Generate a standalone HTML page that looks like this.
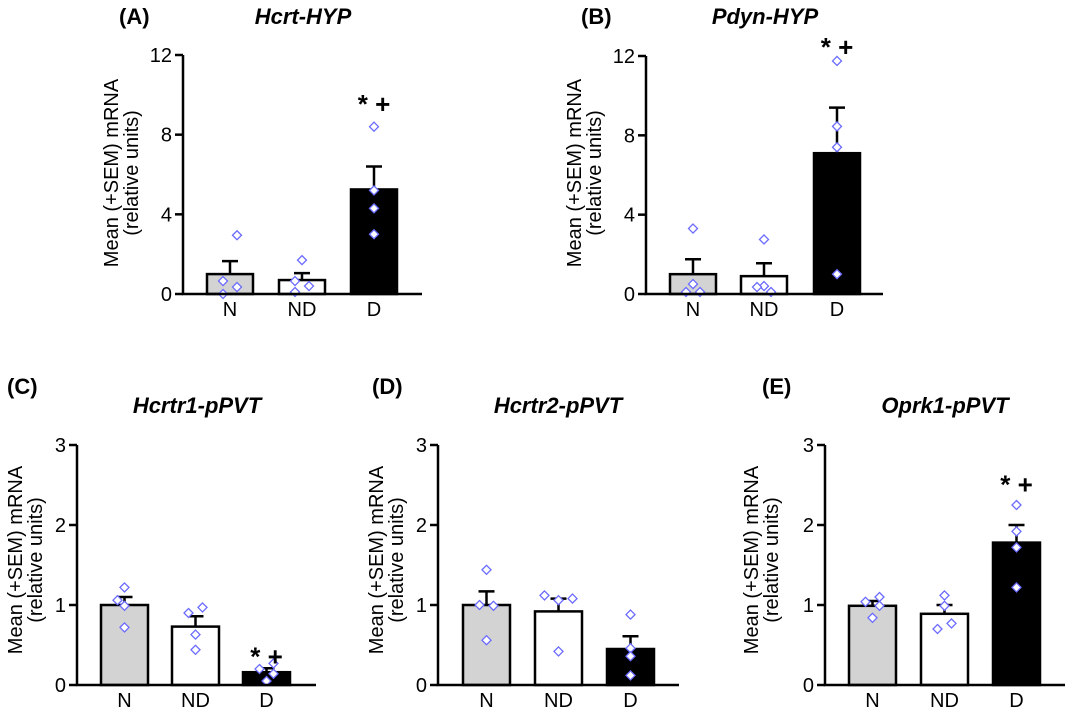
<!DOCTYPE html>
<html><head><meta charset="utf-8"><style>
html,body{margin:0;padding:0;background:#fff}
svg{display:block;font-family:"Liberation Sans",Arial,sans-serif}
</style></head><body>
<svg id="fig" width="1065" height="707" viewBox="0 0 1065 707"></svg>
<script>
const categories = ["N","ND","D"];
const aMeans = [1.0, 0.7, 5.25];
const aSem = [1.65, 1.05, 6.4];
const aPoints = [[2.95,0.65,0.35,0.0],[1.7,0.65,0.4,0.1],[8.4,5.2,4.3,3.0]];
const bMeans = [1.0, 0.9, 7.1];
const bSem = [1.75, 1.55, 9.4];
const bPoints = [[3.3,0.5,0.1,0.1],[2.75,0.4,0.35,0.1],[11.75,8.45,7.4,1.0]];
const cMeans = [1.0, 0.73, 0.16];
const cSem = [1.1, 0.86, 0.21];
const cPoints = [[1.22,1.06,0.99,0.72],[0.97,0.9,0.63,0.44],[0.27,0.2,0.14,0.05]];
const dMeans = [1.0, 0.92, 0.45];
const dSem = [1.17, 1.08, 0.61];
const dPoints = [[1.44,1.0,0.99,0.56],[1.12,1.06,1.08,0.42],[0.88,0.46,0.36,0.12]];
const eMeans = [0.99, 0.89, 1.78];
const eSem = [1.05, 1.0, 2.0];
const ePoints = [[1.04,1.1,0.99,0.84],[1.12,0.99,0.77,0.7],[2.25,1.92,1.72,1.22]];
const hypTicks = [0,4,8,12];
const pvtTicks = [0,1,2,3];

const NS="http://www.w3.org/2000/svg";
const svg=document.getElementById('fig');
function mk(tag,attrs,parent){const e=document.createElementNS(NS,tag);for(const k in attrs)e.setAttribute(k,attrs[k]);(parent||svg).appendChild(e);return e;}
const fills=["#d3d3d3","#ffffff","#000000"];

function panel(p){
  const g=mk('g',{});
  
  
  const y=v=>p.y0-(v/p.max)*(p.y0-p.yTop);
  const t=mk('text',{x:p.labX,y:p.labY,'font-size':22,'font-weight':'bold'},g);t.textContent='('+p.id.toUpperCase()+')';
  
  const ti=mk('text',{x:p.titleX,y:p.labY+(p.titleDy||0),'font-size':22,'font-weight':'bold','font-style':'italic','text-anchor':'middle'},g);ti.textContent=p.title;
  
  p.means.forEach((m,i)=>{
    const x=p.barX[i];
    const r=mk('rect',{x:x,y:y(m),width:p.bw,height:p.y0-y(m),fill:fills[i],stroke:'#000','stroke-width':2.5},g);
    
    const cx=x+p.bw/2;
    const el=mk('path',{d:`M${cx},${y(m)}V${y(p.sem[i])}M${cx-8},${y(p.sem[i])}H${cx+8}`,stroke:'#000','stroke-width':2.5,fill:'none'},g);
    
    p.points[i].forEach((v,j)=>{
      const qx=cx+p.offs[i][j], qy=y(v);
      const d=mk('path',{d:`M${qx},${qy-4.5}L${qx+4.5},${qy}L${qx},${qy+4.5}L${qx-4.5},${qy}Z`,fill:'#fff',stroke:'#6b6bff','stroke-width':1.3},g);
      
    });
    const c=mk('text',{x:cx,y:p.y0+22,'font-size':20,'text-anchor':'middle'},g);c.textContent=categories[i];
    
  });
  const ax=mk('path',{d:`M${p.ax},${p.yTop}V${p.y0}H${p.xEnd}`,stroke:'#000','stroke-width':2.5,fill:'none'},g);
  
  p.ticks.forEach(tk=>{
    mk('line',{x1:p.ax-8,x2:p.ax,y1:y(tk),y2:y(tk),stroke:'#000','stroke-width':2.5},g);
    const tl=mk('text',{x:p.ax-11,y:y(tk)+7,'font-size':20,'text-anchor':'end'},g);tl.textContent=tk;
    
  });
  const yl=mk('text',{transform:`translate(${p.ylX},${p.ylY}) rotate(-90)`,'font-size':20,'text-anchor':'middle'},g);
  
  const s1=mk('tspan',{x:0,y:0},yl);s1.textContent='Mean (+SEM) mRNA';
  const s2=mk('tspan',{x:0,y:20},yl);s2.textContent='(relative units)';
  if(p.star){
    const cx=p.barX[2]+p.bw/2;
    const st=mk('text',{x:cx,y:y(p.star)+10,'font-size':26,'font-weight':'bold','text-anchor':'middle'},g);st.textContent='* +';
    
  }
}
panel({id:'a',title:'Hcrt-HYP',labX:119,labY:24,titleX:303,ax:183,y0:294,yTop:55,max:12,xEnd:422,barX:[207,279,351],bw:46,means:aMeans,sem:aSem,points:aPoints,ticks:hypTicks,ylX:118,ylY:173,star:9.6,offs:[[7,-7,7,-7],[0,-7,7,-7],[0,0,0,0]]});
panel({id:'b',title:'Pdyn-HYP',labX:581,labY:24,titleX:765,ax:646,y0:294,yTop:56,max:12,xEnd:883,barX:[670,741,814],bw:46,means:bMeans,sem:bSem,points:bPoints,ticks:hypTicks,ylX:581,ylY:173,star:12.5,offs:[[0,0,-7,7],[0,0,-7,7],[0,0,0,0]]});
panel({id:'c',title:'Hcrtr1-pPVT',labX:7,labY:394,titleX:197,titleDy:19,ax:77,y0:685,yTop:445,max:3,xEnd:316,barX:[101,172,243],bw:47,means:cMeans,sem:cSem,points:cPoints,ticks:pvtTicks,ylX:22,ylY:560,star:0.37,offs:[[0,-7,0,0],[7,-7,0,0],[7,-7,7,0]]});
panel({id:'d',title:'Hcrtr2-pPVT',labX:372,labY:394,titleX:558,titleDy:19,ax:438,y0:685,yTop:445,max:3,xEnd:679,barX:[463,535,607],bw:47,means:dMeans,sem:dSem,points:dPoints,ticks:pvtTicks,ylX:383,ylY:560,star:0,offs:[[0,-7,7,0],[-14,0,14,0],[0,0,0,0]]});
panel({id:'e',title:'Oprk1-pPVT',labX:762,labY:394,titleX:945,titleDy:19,ax:825,y0:685,yTop:445,max:3,xEnd:1065,barX:[849,921,993],bw:47,means:eMeans,sem:eSem,points:ePoints,ticks:pvtTicks,ylX:758,ylY:560,star:2.52,offs:[[-7,7,7,0],[0,0,7,-7],[0,0,0,0]]});
</script>
</body></html>
